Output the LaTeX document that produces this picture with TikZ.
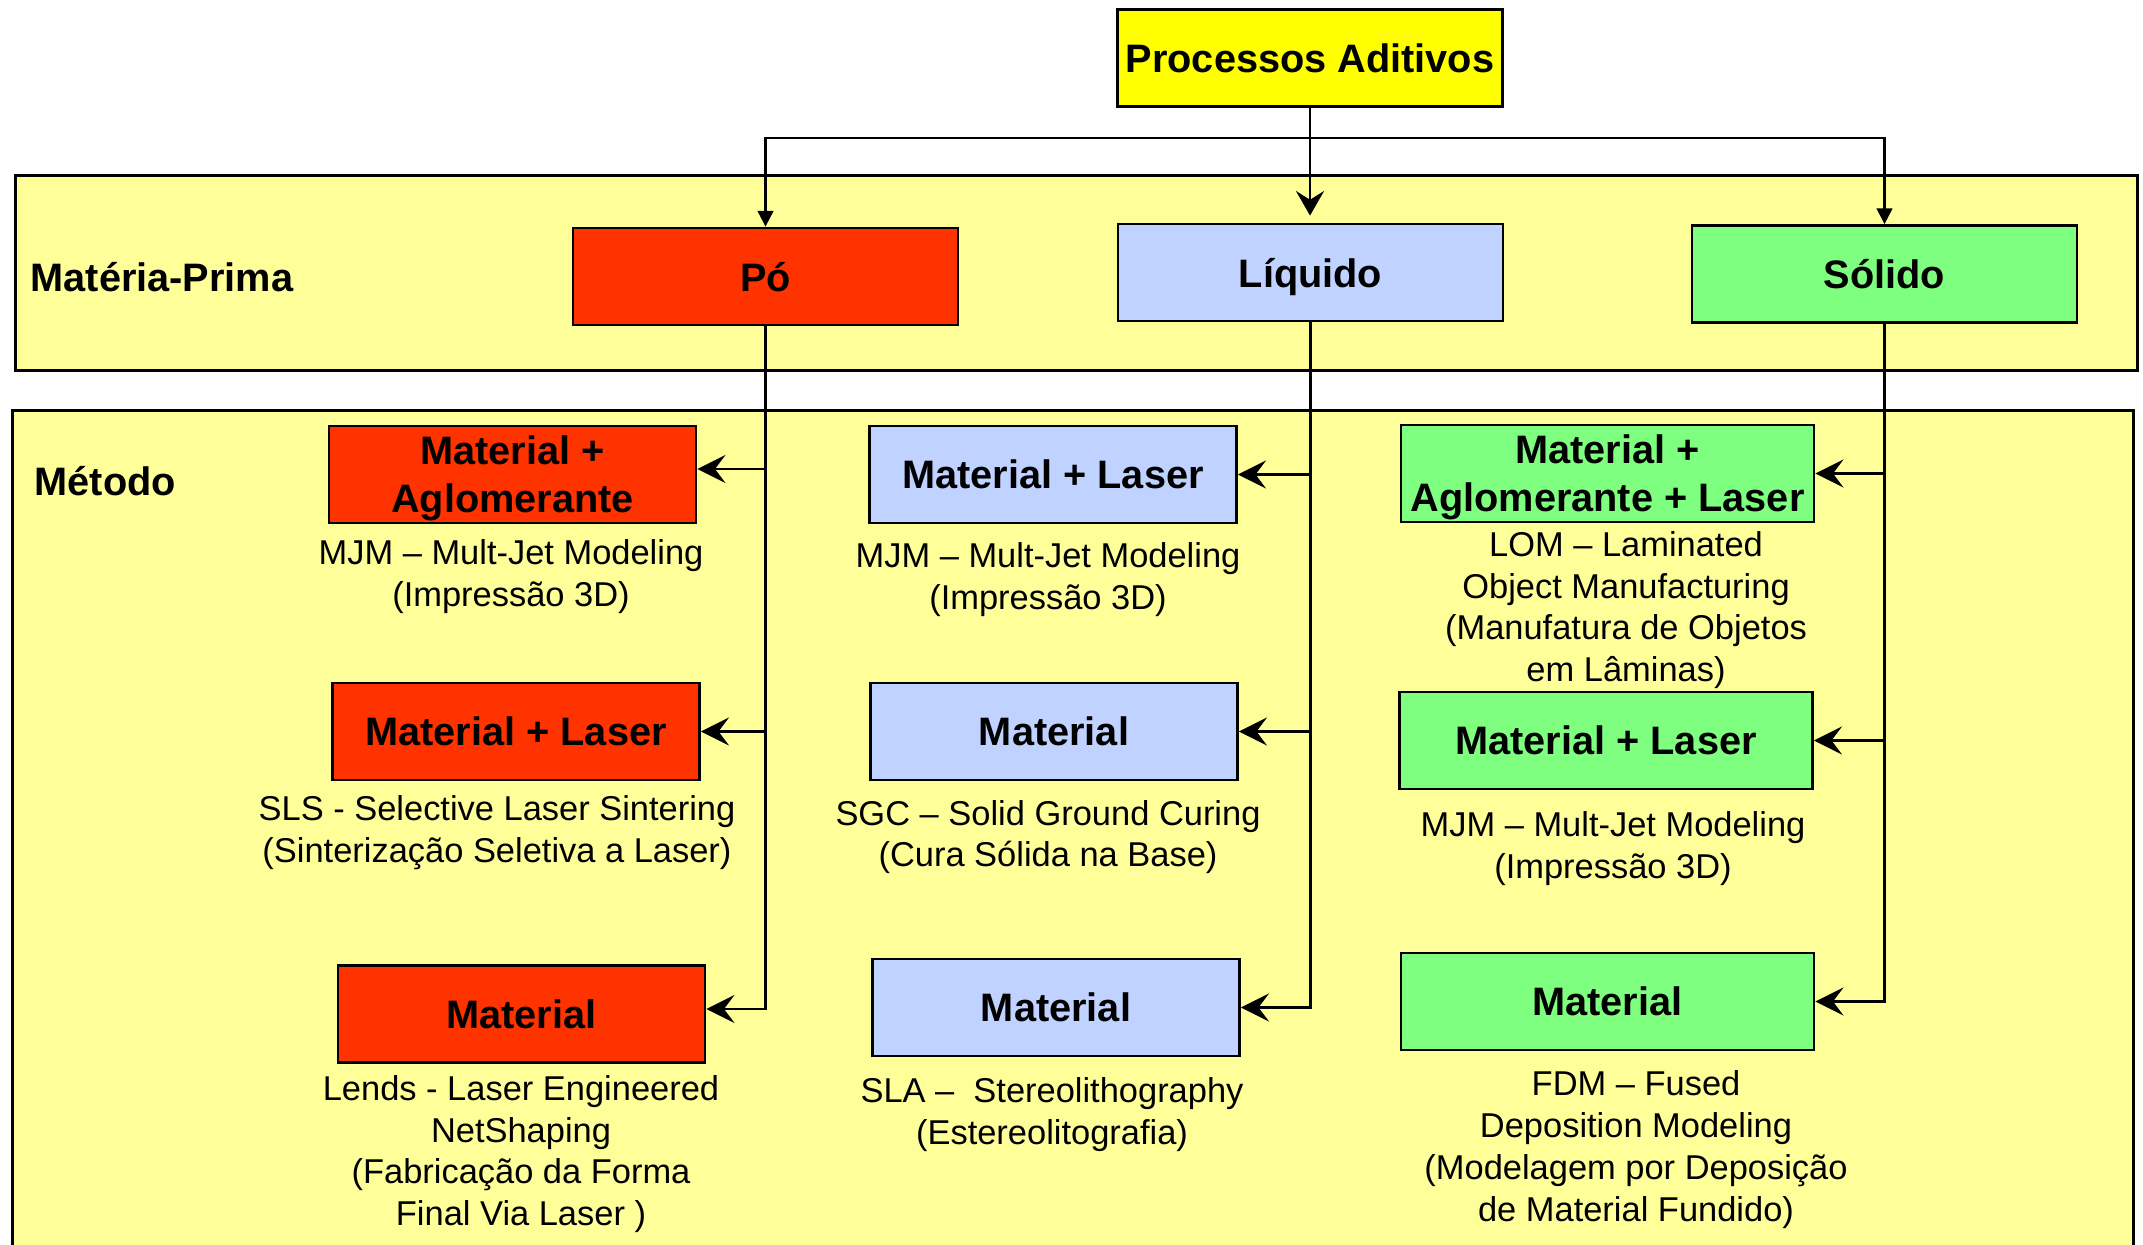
\documentclass[tikz,border=0pt]{standalone}
\usepackage{fontspec}
\setmainfont{Liberation Sans}
\usepackage{tikz}
\usetikzlibrary{arrows.meta, calc}
\definecolor{titleyellow}{HTML}{FFFF00}
\definecolor{bandyellow}{HTML}{FFFF99}
\definecolor{powderred}{HTML}{FF3300}
\definecolor{liquidblue}{HTML}{C0D2FF}
\definecolor{solidgreen}{HTML}{7FFF7F}
\tikzset{
    procbox/.style={
        rectangle, draw=black, fill=#1,
        minimum width=3.85cm, minimum height=0.97cm,
        font=\fontsize{11.3}{13.6}\selectfont\bfseries, align=center,
        line width=0.8pt, inner sep=1pt, text depth=0pt
    },
    procbox/.default=titleyellow,
    methbox/.style={procbox=#1, minimum width=3.67cm},
    widebox/.style={procbox=#1, minimum width=4.13cm},
    bandbox/.style={
        rectangle, draw=black, fill=bandyellow, line width=0.8pt,
        inner sep=0pt, anchor=north west
    },
    bandlab/.style={
        font=\fontsize{11.3}{13.6}\selectfont\bfseries, anchor=west, inner sep=0pt
    },
    desctext/.style={
        font=\fontsize{9.8}{11.9}\selectfont, align=center, inner sep=0pt
    },
    feedarrow/.style={
        -{Triangle[length=4.5pt, width=4.5pt]}, line width=0.6pt
    },
    bigfeedarrow/.style={
        -{Stealth[length=7pt, width=8pt, inset=2.5pt]}, line width=0.6pt
    },
    brancharrow/.style={
        -{Stealth[length=8pt, width=8pt, inset=3pt]}, line width=0.6pt
    },
}
\begin{document}
\begin{tikzpicture}
    \useasboundingbox (0,0) rectangle (21.43,-12.45);

    \node[bandbox, minimum width=21.22cm, minimum height=1.95cm] (bandmp) at (0.14,-1.74) {};
    \node[bandbox, minimum width=21.21cm, minimum height=8.5cm] (bandmet) at (0.11,-4.09) {};
    \node[bandlab] (labmp) at (0.30,-2.77) {Matéria-Prima};
    \node[bandlab] (labmet) at (0.34,-4.81) {Método};

    \node[procbox] (top) at (13.10,-0.58) {Processos Aditivos};
    \node[procbox=powderred] (po) at (7.655,-2.765) {Pó};
    \node[procbox=liquidblue] (liquido) at (13.105,-2.725) {Líquido};
    \node[procbox=solidgreen] (solido) at (18.845,-2.74) {Sólido};

    \node[methbox=powderred] (po1) at (5.125,-4.745) {Material +\\Aglomerante};
    \node[methbox=powderred] (po2) at (5.16,-7.315) {Material + Laser};
    \node[methbox=powderred] (po3) at (5.215,-10.14) {Material};
    \node[methbox=liquidblue] (li1) at (10.53,-4.745) {Material + Laser};
    \node[methbox=liquidblue] (li2) at (10.54,-7.315) {Material};
    \node[methbox=liquidblue] (li3) at (10.56,-10.075) {Material};
    \node[widebox=solidgreen] (so1) at (16.075,-4.735) {Material +\\Aglomerante + Laser};
    \node[widebox=solidgreen] (so2) at (16.06,-7.405) {Material + Laser};
    \node[widebox=solidgreen] (so3) at (16.075,-10.015) {Material};

    \node[desctext] (po1d) at (5.11,-5.765) {MJM – Mult-Jet Modeling\\(Impressão 3D)};
    \node[desctext] (po2d) at (4.97,-8.325) {SLS - Selective Laser Sintering\\(Sinterização Seletiva a Laser)};
    \node[desctext] (po3d) at (5.21,-11.54) {Lends - Laser Engineered\\NetShaping\\(Fabricação da Forma\\Final Via Laser )};
    \node[desctext] (li1d) at (10.48,-5.795) {MJM – Mult-Jet Modeling\\(Impressão 3D)};
    \node[desctext] (li2d) at (10.48,-8.37) {SGC – Solid Ground Curing\\(Cura Sólida na Base)};
    \node[desctext] (li3d) at (10.52,-11.145) {SLA – \ Stereolithography\\(Estereolitografia)};
    \node[desctext] (so1d) at (16.26,-6.10) {LOM – Laminated\\Object Manufacturing\\(Manufatura de Objetos\\em Lâminas)};
    \node[desctext] (so2d) at (16.13,-8.49) {MJM – Mult-Jet Modeling\\(Impressão 3D)};
    \node[desctext] (so3d) at (16.36,-11.495) {FDM – Fused\\Deposition Modeling\\(Modelagem por Deposição\\de Material Fundido)};

    \draw[feedarrow] (top.south) -- ++(0,-0.30) -| (po.north);
    \draw[feedarrow] (top.south) -- ++(0,-0.30) -| (solido.north);
    \draw[bigfeedarrow, shorten >=0.07cm] (top.south) -- (top.south |- liquido.north);

    \draw[brancharrow] (po.south) |- ($(po3.east)+(0,0.05)$);
    \draw[brancharrow] (po.south |- {$(po1.east)+(0,0.055)$}) -- ($(po1.east)+(0,0.055)$);
    \draw[brancharrow] (po.south |- po2.east) -- (po2.east);
    \draw[brancharrow] (liquido.south) |- (li3.east);
    \draw[brancharrow] (liquido.south |- li1.east) -- (li1.east);
    \draw[brancharrow] (liquido.south |- li2.east) -- (li2.east);
    \draw[brancharrow] (solido.south) |- (so3.east);
    \draw[brancharrow] (solido.south |- so1.east) -- (so1.east);
    \draw[brancharrow] (solido.south |- so2.east) -- (so2.east);
\end{tikzpicture}
\end{document}
